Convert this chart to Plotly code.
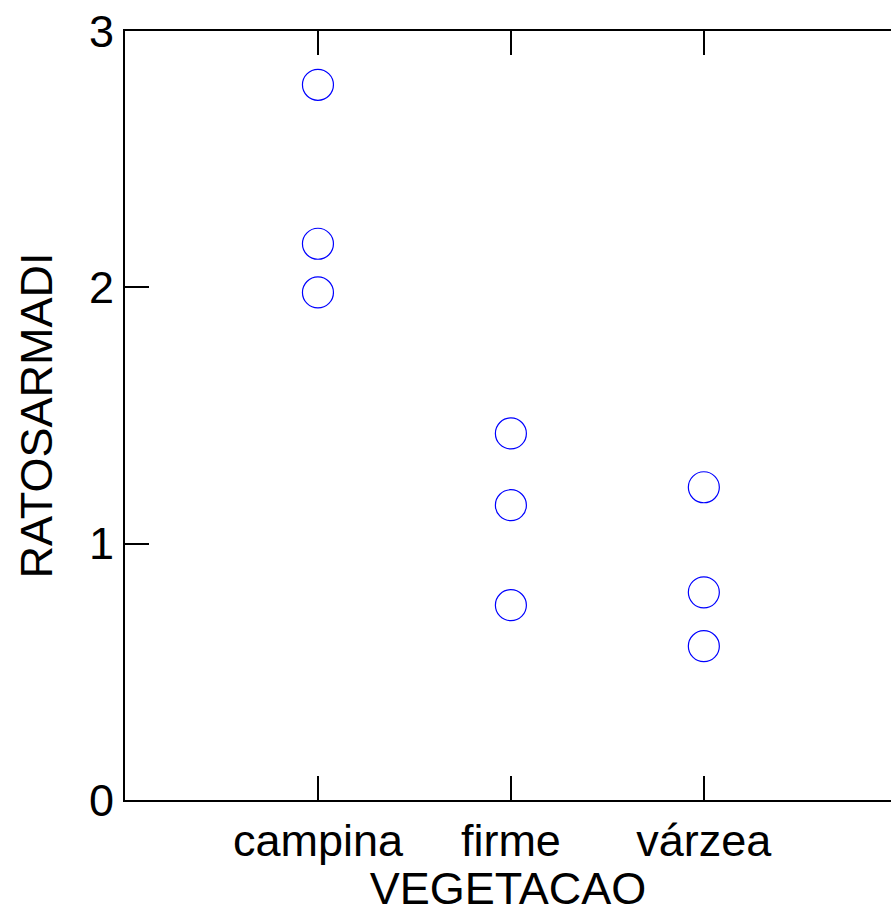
import plotly.graph_objects as go

# Category axis and observations per vegetation type
categories = ["campina", "firme", "várzea"]
category_pos = [1, 2, 3]
campina_vals = [2.79, 2.17, 1.98]
firme_vals = [1.43, 1.15, 0.76]
varzea_vals = [1.22, 0.81, 0.60]
y_ticks = [0, 1, 2, 3]

x_vals = []
y_vals = []
for pos, vals in zip(category_pos, [campina_vals, firme_vals, varzea_vals]):
    x_vals += [pos] * len(vals)
    y_vals += vals

fig = go.Figure()
fig.add_trace(go.Scatter(
    x=x_vals, y=y_vals, mode="markers",
    marker=dict(symbol="circle-open", size=31, color="#0000FF",
                line=dict(width=1.2, color="#0000FF")),
    showlegend=False,
))

font = dict(family="Liberation Sans, Arial, sans-serif", size=45, color="black")

tick_style = dict(ticks="inside", ticklen=24, tickwidth=2, tickcolor="black",
                  showgrid=False, zeroline=False)

fig.update_layout(
    width=891, height=914,
    margin=dict(l=125, r=0, t=31, b=114),
    paper_bgcolor="white", plot_bgcolor="white",
    font=font,
    xaxis=dict(
        range=[0, 3.97], tickvals=category_pos, ticktext=categories,
        showline=True, linecolor="black", linewidth=2,
        mirror="ticks", tickfont=font,
        title=dict(text="VEGETACAO", font=font, standoff=12),
        **tick_style,
    ),
    yaxis=dict(
        range=[0, 3], tickvals=y_ticks,
        showline=True, linecolor="black", linewidth=2,
        tickfont=font, ticklabelstandoff=0,
        title=dict(text="RATOSARMADI", font=font, standoff=22),
        **tick_style,
    ),
    # right-hand tick marks only (the frame edge falls outside the page)
    yaxis2=dict(
        range=[0, 3], tickvals=y_ticks, overlaying="y", side="right",
        showline=False, showticklabels=False,
        **tick_style,
    ),
)

fig.write_html("out.html")
